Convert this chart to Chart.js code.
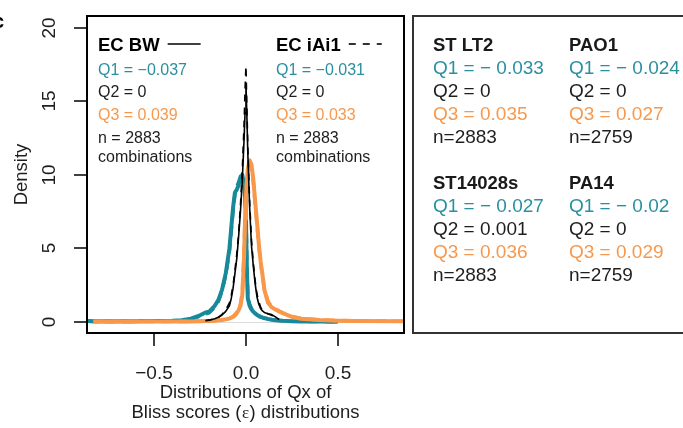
<!DOCTYPE html>
<html>
<head>
<meta charset="utf-8">
<script src="https://cdn.jsdelivr.net/npm/chart.js@4/dist/chart.umd.min.js"></script>
<style>
html,body{margin:0;padding:0;background:#fff;width:683px;height:428px;overflow:hidden}
canvas{display:block}
</style>
</head>
<body>
<canvas id="c" width="683" height="428"></canvas>
<script>
// ---------- data ----------
const gridX = [-0.86,-0.83,-0.6,-0.4,-0.35,-0.3,-0.25,-0.22,-0.2,-0.17,-0.15,-0.13,-0.11,-0.09,-0.08,-0.07,-0.06,-0.05,-0.04,-0.03,-0.02,-0.01,-0.005,0,0.005,0.01,0.02,0.03,0.04,0.05,0.06,0.07,0.08,0.09,0.1,0.12,0.14,0.16,0.18,0.2,0.25,0.3,0.4,0.5,0.6,0.86];

// Q1 densities (teal)
const bwQ1  = [0.06,0.05,0.05,0.08,0.12,0.22,0.45,0.65,0.7,1.1,1.5,2.2,3.3,5.0,6.4,7.8,8.8,9.0,9.3,9.7,10.0,9.3,8.6,7.0,3.6,1.6,1.1,0.85,0.7,0.58,0.48,0.4,0.34,0.3,0.26,0.2,0.15,0.12,0.1,0.08,0.05,0.04,0.03,0.02,null,null];
const iaiQ1 = [0.05,0.04,0.04,0.07,0.1,0.18,0.4,0.55,0.62,1.0,1.4,2.1,3.2,4.8,6.2,7.6,8.7,9.2,9.5,9.9,9.8,9.5,8.9,7.4,4.0,1.8,1.2,0.9,0.72,0.6,0.5,0.42,0.36,0.31,0.27,0.21,0.16,0.13,0.1,0.08,0.05,0.04,0.03,0.02,null,null];
// Q2 densities (black)
const bwQ2  = [null,null,null,null,null,null,null,0.08,0.12,0.22,0.32,0.47,0.72,1.1,1.6,2.3,3.3,4.3,5.8,7.5,9.6,12.5,14.2,16.2,14.0,11.5,7.8,5.2,3.8,2.6,1.7,1.2,0.9,0.75,0.65,0.55,0.5,0.35,0.18,null,null,null,null,null,null,null];
const iaiQ2 = [null,null,null,null,null,null,null,0.1,0.14,0.22,0.32,0.52,0.82,1.3,1.8,2.5,3.5,4.6,6.0,7.9,10.3,13.5,15.8,17.4,14.6,12.0,8.2,5.6,4.0,2.8,1.9,1.4,1.0,0.8,0.7,0.55,0.45,0.3,0.16,null,null,null,null,null,null,null];
// Q3 densities (orange)
const bwQ3  = [null,0.03,0.03,0.03,0.03,0.04,0.05,0.06,0.07,0.09,0.11,0.14,0.18,0.24,0.28,0.35,0.45,0.6,0.8,1.1,1.8,4.5,7.0,8.6,9.6,10.4,11.0,10.7,9.7,8.2,6.8,5.3,4.1,3.2,2.2,1.3,1.0,0.85,0.72,0.6,0.35,0.22,0.13,0.09,0.06,0.05];
const iaiQ3 = [null,0.03,0.03,0.03,0.03,0.04,0.05,0.06,0.07,0.09,0.12,0.15,0.2,0.26,0.3,0.38,0.5,0.65,0.85,1.2,2.0,4.9,7.3,8.8,9.7,10.2,10.6,10.4,9.5,8.0,6.6,5.2,4.0,3.1,2.3,1.4,1.05,0.9,0.75,0.62,0.37,0.24,0.14,0.1,0.07,0.05];

const xTicks = [-0.5, 0, 0.5];
const xTickLabels = ['\u22120.5', '0.0', '0.5'];
const yTicks = [0, 5, 10, 15, 20];
const yTickLabels = ['0', '5', '10', '15', '20'];

const leftStats = [
  { title: 'EC BW', q1: 'Q1 = \u22120.037', q2: 'Q2 = 0', q3: 'Q3 = 0.039', n: 'n = 2883', extra: 'combinations' },
  { title: 'EC iAi1', q1: 'Q1 = \u22120.031', q2: 'Q2 = 0', q3: 'Q3 = 0.033', n: 'n = 2883', extra: 'combinations' }
];
const rightStats = [
  { title: 'ST LT2',   q1: 'Q1 = \u2212 0.033', q2: 'Q2 = 0',     q3: 'Q3 = 0.035', n: 'n=2883' },
  { title: 'PAO1',     q1: 'Q1 = \u2212 0.024', q2: 'Q2 = 0',     q3: 'Q3 = 0.027', n: 'n=2759' },
  { title: 'ST14028s', q1: 'Q1 = \u2212 0.027', q2: 'Q2 = 0.001', q3: 'Q3 = 0.036', n: 'n=2883' },
  { title: 'PA14',     q1: 'Q1 = \u2212 0.02',  q2: 'Q2 = 0',     q3: 'Q3 = 0.029', n: 'n=2759' }
];

// ---------- styling ----------
const TEAL = '#18899a', ORANGE = '#f8984a', BLACK = '#000';
const TEAL_T = '#2a909f', ORANGE_T = '#f6994e', TEXT = '#1e1e1e';
const FONT = '"Liberation Sans", Arial, Helvetica, sans-serif';

function pts(ys) {
  return gridX.map((x, i) => ({ x: x, y: ys[i] })).filter(p => p.y !== null);
}

const decor = {
  id: 'decor',
  beforeDatasetsDraw(chart) {
    const { ctx, chartArea: a, scales: { y } } = chart;
    ctx.save();
    ctx.strokeStyle = '#dcdcdc';
    ctx.lineWidth = 1;
    const y0 = Math.round(y.getPixelForValue(0)) + 0.5;
    ctx.beginPath(); ctx.moveTo(a.left, y0); ctx.lineTo(a.right, y0); ctx.stroke();
    ctx.restore();
  },
  afterDraw(chart) {
    const { ctx, chartArea: a, scales: { x, y } } = chart;
    ctx.save();
    // plot box
    ctx.strokeStyle = '#000'; ctx.lineWidth = 2;
    ctx.strokeRect(a.left, a.top, a.right - a.left, a.bottom - a.top);
    // ticks
    ctx.lineWidth = 1.5;
    ctx.fillStyle = TEXT;
    ctx.font = '19px ' + FONT;
    ctx.textAlign = 'center'; ctx.textBaseline = 'alphabetic';
    xTicks.forEach((v, i) => {
      const px = Math.round(x.getPixelForValue(v));
      ctx.beginPath(); ctx.moveTo(px, a.bottom); ctx.lineTo(px, a.bottom + 13); ctx.stroke();
      ctx.fillText(xTickLabels[i], px, 379);
    });
    yTicks.forEach((v, i) => {
      const py = Math.round(y.getPixelForValue(v));
      ctx.beginPath(); ctx.moveTo(a.left - 13, py); ctx.lineTo(a.left, py); ctx.stroke();
      ctx.save(); ctx.translate(55, py); ctx.rotate(-Math.PI / 2);
      ctx.fillText(yTickLabels[i], 0, 0); ctx.restore();
    });
    // axis titles
    ctx.font = '18.5px ' + FONT;
    const cx = (a.left + a.right) / 2;
    ctx.fillText('Distributions of Qx of', cx, 398);
    const p1 = 'Bliss scores (', p2 = '\u03b5', p3 = ') distributions';
    const f1 = '18.5px ' + FONT, f2 = '17px "Liberation Serif", "DejaVu Serif", serif';
    ctx.font = f1; const w1 = ctx.measureText(p1).width, w3 = ctx.measureText(p3).width;
    ctx.font = f2; const w2 = ctx.measureText(p2).width + 1;
    let sx = cx - (w1 + w2 + w3) / 2;
    ctx.textAlign = 'left';
    ctx.font = f1; ctx.fillText(p1, sx, 418);
    ctx.font = f2; ctx.fillText(p2, sx + w1 + 0.5, 418);
    ctx.font = f1; ctx.fillText(p3, sx + w1 + w2, 418);
    ctx.save(); ctx.translate(27, (a.top + a.bottom) / 2); ctx.rotate(-Math.PI / 2);
    ctx.textAlign = 'center'; ctx.fillText('Density', 0, 0); ctx.restore();

    // panel letter
    ctx.font = 'bold 20px ' + FONT; ctx.textAlign = 'left'; ctx.fillStyle = '#000';
    ctx.fillText('c', -7, 28);

    // left legend
    const lx = [98, 276];
    leftStats.forEach((s, k) => {
      const X = lx[k];
      ctx.font = 'bold 18.5px ' + FONT; ctx.fillStyle = '#000';
      ctx.fillText(s.title, X, 51);
      const tw = ctx.measureText(s.title).width;
      ctx.strokeStyle = '#000'; ctx.lineWidth = 1.6;
      ctx.setLineDash(k === 0 ? [] : [7, 7]);
      ctx.beginPath(); ctx.moveTo(X + tw + 8, 44); ctx.lineTo(X + tw + 41, 44); ctx.stroke();
      ctx.setLineDash([]);
      ctx.font = '16px ' + FONT;
      ctx.fillStyle = TEAL_T; ctx.fillText(s.q1, X, 75);
      ctx.fillStyle = TEXT; ctx.fillText(s.q2, X, 97);
      ctx.fillStyle = ORANGE_T; ctx.fillText(s.q3, X, 119.5);
      ctx.fillStyle = TEXT; ctx.fillText(s.n, X, 143); ctx.fillText(s.extra, X, 162);
    });

    // right panel
    ctx.strokeStyle = '#333'; ctx.lineWidth = 2;
    ctx.strokeRect(413, 16, 300, 317);
    const rx = [433, 569, 433, 569];
    const ry = [51, 51, 189, 189];
    rightStats.forEach((s, k) => {
      const X = rx[k], Y = ry[k];
      ctx.font = 'bold 18.5px ' + FONT; ctx.fillStyle = '#1a1a1a';
      ctx.fillText(s.title, X, Y);
      ctx.font = '19px ' + FONT;
      ctx.fillStyle = TEAL_T; ctx.fillText(s.q1, X, Y + 23);
      ctx.fillStyle = TEXT; ctx.fillText(s.q2, X, Y + 46);
      ctx.fillStyle = ORANGE_T; ctx.fillText(s.q3, X, Y + 69);
      ctx.fillStyle = TEXT; ctx.fillText(s.n, X, Y + 92);
    });
    ctx.restore();
  }
};

function ds(label, ys, color, width, dash) {
  return { label: label, data: pts(ys), borderColor: color, borderWidth: width,
           borderDash: dash, showLine: true, pointRadius: 0, tension: 0, fill: false,
           clip: 0, borderJoinStyle: 'round', borderCapStyle: 'butt' };
}

new Chart(document.getElementById('c'), {
  type: 'scatter',
  data: {
    datasets: [
      ds('EC iAi1 Q2', iaiQ2, BLACK, 1.6, [7, 6]),
      ds('EC BW Q2', bwQ2, BLACK, 1.6, []),
      ds('EC iAi1 Q3', iaiQ3, ORANGE, 3.5, [10, 7]),
      ds('EC BW Q3', bwQ3, ORANGE, 4, []),
      ds('EC iAi1 Q1', iaiQ1, TEAL, 3.5, [10, 7]),
      ds('EC BW Q1', bwQ1, TEAL, 4, [])
    ]
  },
  options: {
    responsive: false,
    animation: false,
    events: [],
    layout: { padding: { left: 87, top: 16, right: 279, bottom: 95 } },
    plugins: { legend: { display: false }, tooltip: { enabled: false }, title: { display: false } },
    scales: {
      x: { type: 'linear', display: false, min: -0.865, max: 0.86 },
      y: { type: 'linear', display: false, min: -0.75, max: 20.8 }
    }
  },
  plugins: [decor]
});
</script>
</body>
</html>
